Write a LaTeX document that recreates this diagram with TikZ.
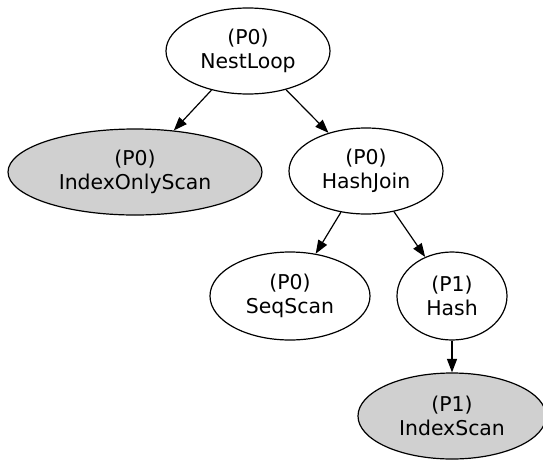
\documentclass[tikz,border=0pt]{standalone}
\usepackage{fontspec}
\setmainfont{DejaVu Sans}
\usetikzlibrary{shapes.geometric,arrows.meta}
\definecolor{nodegray}{RGB}{208,208,208}
\tikzset{
  plan/.style={ellipse, draw=black, line width=1.2pt, inner sep=0pt,
    align=center, font=\fontsize{20.4}{24}\selectfont},
  scanleaf/.style={plan, fill=nodegray},
  edge/.style={line width=1.2pt, -{Triangle[length=13.5pt,width=10pt]}}
}
\begin{document}
\begin{tikzpicture}[x=1pt,y=-1pt]
  \useasboundingbox (0,0) rectangle (543,461);
  \node[plan, minimum width=164pt, minimum height=86pt] (nl) at (248,51) {(P0)\\NestLoop};
  \node[scanleaf, minimum width=254pt, minimum height=86pt] (ios) at (135,172) {(P0)\\IndexOnlyScan};
  \node[plan, minimum width=154pt, minimum height=86pt] (hj) at (366,171) {(P0)\\HashJoin};
  \node[plan, minimum width=160pt, minimum height=88pt] (ss) at (290,296) {(P0)\\SeqScan};
  \node[plan, minimum width=110pt, minimum height=88pt] (hs) at (452,296) {(P1)\\Hash};
  \node[scanleaf, minimum width=188pt, minimum height=86pt] (is) at (452,416) {(P1)\\IndexScan};
  \draw[edge] (nl) -- (ios);
  \draw[edge] (nl) -- (hj);
  \draw[edge] (hj) -- (ss);
  \draw[edge] (hj) -- (hs);
  \draw[edge] (hs) -- (is);
\end{tikzpicture}
\end{document}
